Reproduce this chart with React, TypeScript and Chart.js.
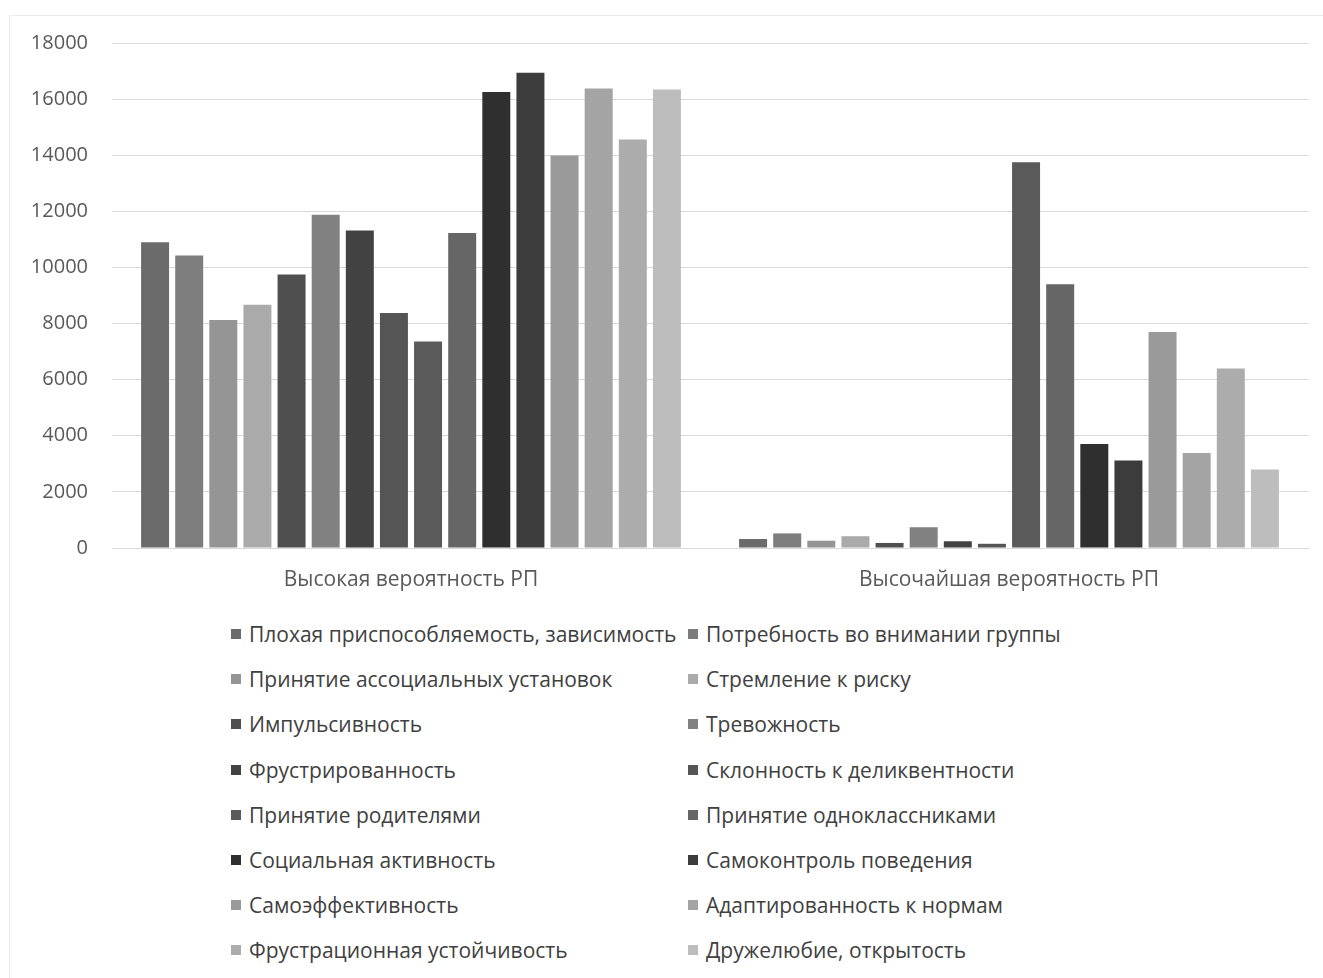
import React, { useEffect, useRef } from "react";
import { Chart, registerables } from "chart.js";

Chart.register(...registerables);

const categories = ["Высокая вероятность РП", "Высочайшая вероятность РП"];

const seriesNames = [
  "Плохая приспособляемость, зависимость",
  "Потребность во внимании группы",
  "Принятие ассоциальных установок",
  "Стремление к риску",
  "Импульсивность",
  "Тревожность",
  "Фрустрированность",
  "Склонность к деликвентности",
  "Принятие родителями",
  "Принятие одноклассниками",
  "Социальная активность",
  "Самоконтроль поведения",
  "Самоэффективность",
  "Адаптированность к нормам",
  "Фрустрационная устойчивость",
  "Дружелюбие, открытость",
];

const highValues = [
  10900, 10430, 8130, 8670, 9750, 11880, 11320, 8380, 7360, 11230, 16250, 16940,
  13990, 16380, 14560, 16340,
];

const highestValues = [
  320, 520, 260, 420, 180, 740, 240, 150, 13750, 9400, 3710, 3120, 7700, 3390,
  6400, 2800,
];

const yTicks = [0, 2000, 4000, 6000, 8000, 10000, 12000, 14000, 16000, 18000];

const seriesColors = [
  "#6b6b6b", "#7d7d7d", "#959595", "#aaaaaa",
  "#4f4f4f", "#818181", "#424242", "#555555",
  "#5a5a5a", "#666666", "#2f2f2f", "#3c3c3c",
  "#9a9a9a", "#a4a4a4", "#acacac", "#bdbdbd",
];

const FONT = "'Open Sans', 'DejaVu Sans', sans-serif";

export default function App() {
  const canvasRef = useRef<HTMLCanvasElement | null>(null);

  useEffect(() => {
    if (!canvasRef.current) return;
    const chart = new Chart(canvasRef.current, {
      type: "bar",
      data: {
        labels: categories,
        datasets: seriesNames.map((name, i) => ({
          label: name,
          data: [highValues[i], highestValues[i]],
          backgroundColor: seriesColors[i],
          borderWidth: 0,
          categoryPercentage: 0.913,
          barPercentage: 0.82,
        })),
      },
      options: {
        animation: false,
        responsive: false,
        devicePixelRatio: 1,
        layout: { padding: { top: 43, right: 15, bottom: 0, left: 0 } },
        plugins: {
          legend: { display: false },
          tooltip: { enabled: false },
        },
        scales: {
          x: {
            grid: { display: false, drawTicks: false },
            border: { display: true, color: "#d9d9d9" },
            ticks: {
              padding: 19,
              color: "#595959",
              font: { family: FONT, size: 21 },
            },
            afterFit: (scale: any) => {
              scale.height = 52;
            },
          },
          y: {
            min: 0,
            max: 18000,
            afterBuildTicks: (scale: any) => {
              scale.ticks = yTicks.map((v) => ({ value: v }));
            },
            grid: { color: "#d9d9d9", drawTicks: false, lineWidth: 1 },
            border: { display: false },
            ticks: {
              padding: 24,
              color: "#595959",
              font: { family: FONT, size: 20 },
              callback: (v: any) => String(v),
            },
            afterFit: (scale: any) => {
              scale.width = 112;
            },
          },
        },
      },
    });
    return () => chart.destroy();
  }, []);

  return (
    <div
      style={{
        position: "fixed",
        left: 0,
        top: 0,
        width: 1323,
        height: 978,
        background: "#ffffff",
        overflow: "hidden",
        fontFamily: FONT,
      }}
    >
      <div
        style={{
          position: "absolute",
          left: 9,
          top: 15,
          width: 1400,
          height: 1100,
          borderLeft: "1px solid #ececec",
          borderTop: "1px solid #ececec",
        }}
      />
      <canvas
        ref={canvasRef}
        width={1323}
        height={600}
        style={{ position: "absolute", left: 0, top: 0, width: 1323, height: 600 }}
      />
      {seriesNames.map((name, i) => {
        const col = i % 2;
        const row = Math.floor(i / 2);
        return (
          <div
            key={name}
            style={{
              position: "absolute",
              left: col === 0 ? 231 : 688,
              top: 634 + row * 45.2 - 14,
              height: 28,
              display: "flex",
              alignItems: "center",
              whiteSpace: "nowrap",
              fontSize: 21,
              color: "#404040",
            }}
          >
            <span
              style={{
                display: "inline-block",
                width: 10,
                height: 10,
                background: seriesColors[i],
                marginRight: 8,
              }}
            />
            <span>{name}</span>
          </div>
        );
      })}
    </div>
  );
}
